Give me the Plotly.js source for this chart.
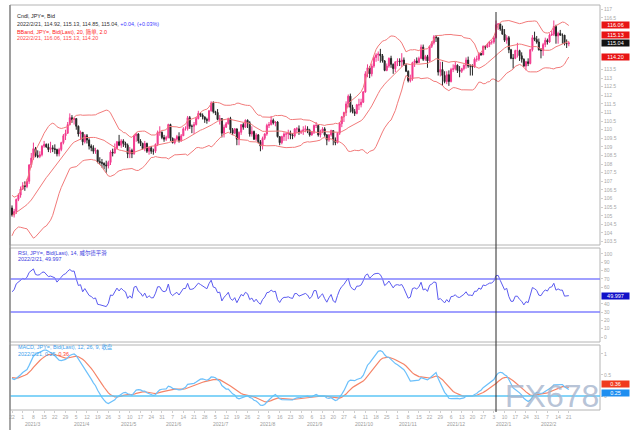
<!DOCTYPE html>
<html><head><meta charset="utf-8">
<script src="https://cdn.plot.ly/plotly-3.0.1.min.js"></script>
<style>html,body{margin:0;padding:0;background:#fff;}#chart{width:631px;height:440px;}</style>
</head><body><div id="chart"></div>
<script>
// ---- DATA (USD/JPY daily) ----
const firstDate = '2021-02-22';
const markDate = '2022-01-04';
const warmupClose = [103.15,102.70,103.05,103.80,103.95, 104.25,103.75,103.90,103.85,103.85,
  103.70,103.85,103.55,103.50,103.80, 103.75,103.60,104.10,104.25,104.70,
  104.95,105.05,105.05,105.55,105.40, 105.25,104.60,104.60,104.75,104.95,
  105.40,106.05,105.85,105.65,105.45];
const closePrice = [
  105.05,105.25,105.95,106.20,106.55, 106.75,106.70,107.00,107.95,108.35,
  108.90,108.50,108.45,108.55,109.05, 109.15,109.00,108.85,108.95,108.90,
  108.85,108.60,108.85,109.25,109.65, 109.80,110.30,110.70,110.60,110.65,
  110.20,109.75,109.85,109.30,109.65, 109.40,109.05,108.95,108.75,108.80,
  108.15,108.10,108.05,107.95,107.90, 108.10,108.70,108.65,108.90,109.30,
  109.10,109.35,109.20,109.10,108.60, 108.80,108.60,109.65,109.75,109.35,
  109.20,108.90,109.20,108.75,108.95, 108.75,108.75,109.15,109.85,109.85,
  109.55,109.45,109.55,110.30,109.50, 109.25,109.45,109.60,109.35,109.65,
  110.05,110.05,110.70,110.20,110.20, 110.30,110.65,110.95,110.85,110.75,
  110.60,110.55,111.10,111.55,111.05, 111.00,110.60,110.65,109.80,110.15,
  110.35,110.65,110.00,109.80,110.05, 109.45,109.85,110.30,110.15,110.55,
  110.40,109.75,109.90,109.45,109.70, 109.30,109.05,109.50,109.75,110.25,
  110.30,110.55,110.40,110.45,109.60, 109.25,109.60,109.75,109.75,109.80,
  109.70,109.65,110.05,110.05,109.85, 109.90,110.00,110.05,109.95,109.70,
  109.85,110.25,110.25,109.70,109.90, 110.05,109.70,109.40,109.70,109.95,
  109.40,109.25,109.80,110.35,110.75, 111.00,111.50,111.95,111.30,111.05,
  110.95,111.45,111.45,111.60,112.20, 113.25,113.60,113.25,113.70,114.20,
  114.35,114.40,114.30,114.00,113.45, 113.70,114.15,113.80,113.55,113.95,
  114.00,113.95,114.05,113.75,113.40, 112.85,112.95,113.90,114.00,113.90,
  114.15,114.80,114.10,114.25,114.00, 114.85,115.05,115.40,115.35,113.35,
  113.50,113.15,112.80,113.20,112.80, 113.50,113.55,113.75,113.45,113.40,
  113.55,113.75,114.05,113.70,113.70, 113.65,114.10,114.10,114.45,114.35,
  114.85,114.80,114.95,115.10,115.10, 115.35,116.10,116.15,115.85,115.55,
  115.20,115.35,114.65,114.15,114.15, 114.60,114.60,114.30,114.10,113.70,
  113.95,113.85,114.65,115.35,115.25, 115.10,114.65,114.60,114.95,115.20,
  115.10,115.50,115.55,116.00,115.45, 115.60,115.50,115.50,115.00,115.00,
  115.04];
const highPrice = [
  105.60,105.40,106.00,106.30,106.70, 106.95,107.00,107.15,108.00,108.65,
  109.25,109.00,108.80,108.75,109.10, 109.35,109.20,109.20,109.30,109.10,
  109.15,108.90,108.95,109.30,109.75, 110.00,110.45,110.95,110.85,110.70,
  110.65,110.25,109.95,109.85,109.75, 109.75,109.50,109.15,109.10,108.95,
  108.85,108.40,108.30,108.10,108.20, 108.20,108.80,108.90,109.20,109.35,
  109.70,109.45,109.45,109.30,109.20, 109.00,108.90,109.70,109.80,109.80,
  109.45,109.25,109.35,109.25,109.00, 109.05,108.90,109.20,109.95,110.20,
  109.90,109.70,109.65,110.35,110.35, 109.55,109.50,109.70,109.85,109.75,
  110.15,110.20,110.80,110.80,110.30, 110.45,110.75,111.10,111.00,110.95,
  110.75,110.70,111.15,111.65,111.65, 111.10,111.20,110.85,110.65,110.30,
  110.45,110.70,110.75,110.10,110.10, 110.00,109.90,110.30,110.40,110.60,
  110.60,110.50,110.20,109.95,109.80, 109.75,109.40,109.60,109.80,110.35,
  110.45,110.80,110.65,110.50,110.50, 109.60,109.65,109.85,109.85,110.00,
  109.95,109.80,110.10,110.15,110.25, 110.00,110.20,110.25,110.20,110.05,
  109.90,110.30,110.45,110.30,110.00, 110.15,110.15,109.75,109.75,110.00,
  109.95,109.55,109.85,110.45,110.80, 111.05,111.65,112.05,112.10,111.45,
  111.20,111.50,111.80,111.80,112.25, 113.40,113.80,113.70,113.85,114.30,
  114.45,114.55,114.70,114.40,114.05, 113.85,114.20,114.30,113.85,113.95,
  114.15,114.15,114.45,114.20,113.85, 113.45,113.20,113.95,114.10,114.20,
  114.25,114.95,114.95,114.35,114.35, 114.90,115.15,115.50,115.50,115.35,
  113.95,113.95,113.40,113.40,113.45, 113.60,113.80,113.95,113.80,113.70,
  113.60,113.80,114.20,114.25,113.80, 113.80,114.20,114.30,114.50,114.45,
  114.90,114.90,115.05,115.15,115.20, 115.45,116.35,116.20,116.15,116.05,
  115.85,115.50,115.45,114.70,114.40, 114.65,115.05,114.65,114.50,114.15,
  114.00,114.15,114.70,115.50,115.70, 115.45,115.30,114.75,115.05,115.35,
  115.30,115.60,115.75,116.35,116.10, 115.70,115.80,115.60,115.50,115.25,
  115.13];
const lowPrice = [
  104.95,104.90,105.10,105.85,106.05, 106.50,106.45,106.60,106.85,107.80,
  108.25,108.40,108.35,108.35,108.45, 108.95,108.95,108.70,108.65,108.70,
  108.60,108.45,108.45,108.75,109.15, 109.40,109.75,110.25,110.40,110.30,
  110.00,109.60,109.40,109.10,109.20, 109.20,108.85,108.75,108.60,108.60,
  108.05,107.95,107.80,107.70,107.50, 107.75,107.95,108.45,108.60,108.85,
  109.05,108.95,109.00,108.95,108.35, 108.35,108.35,108.55,109.30,109.20,
  109.05,108.85,108.75,108.65,108.55, 108.60,108.55,108.65,109.05,109.65,
  109.45,109.30,109.35,109.50,109.35, 109.20,109.15,109.40,109.25,109.30,
  109.65,109.95,109.95,110.05,109.80, 109.75,110.25,110.60,110.75,110.60,
  110.40,110.35,110.45,111.05,110.95, 110.85,110.55,110.30,109.55,109.55,
  110.10,110.30,109.80,109.70,109.75, 109.10,109.10,109.70,110.00,110.10,
  110.10,109.60,109.60,109.40,109.35, 109.20,108.75,108.85,109.40,109.65,
  110.10,110.25,110.30,110.20,109.55, 109.10,109.15,109.35,109.35,109.45,
  109.45,109.45,109.55,109.80,109.70, 109.75,109.70,109.85,109.80,109.60,
  109.65,109.75,110.10,109.60,109.55, 109.80,109.60,109.10,109.30,109.60,
  109.10,109.10,109.20,109.70,110.15, 110.45,110.80,111.30,111.00,110.95,
  110.80,110.90,111.15,111.30,111.55, 112.15,113.05,113.00,113.10,113.60,
  113.95,114.00,113.90,113.90,113.40, 113.40,113.60,113.60,113.25,113.35,
  113.70,113.70,113.65,113.75,113.35, 112.75,112.75,112.85,113.65,113.85,
  113.90,114.10,114.00,114.00,113.60, 113.95,114.75,114.95,115.10,113.15,
  113.10,112.55,112.70,112.65,112.55, 112.75,113.35,113.45,113.30,113.05,
  113.30,113.45,113.55,113.60,113.15, 113.15,113.60,113.95,114.00,114.30,
  114.35,114.65,114.75,114.80,114.95, 115.00,115.30,115.80,115.75,115.55,
  115.10,115.00,114.45,114.10,113.55, 114.10,114.20,114.00,113.90,113.65,
  113.45,113.70,113.80,114.55,115.15, 115.00,114.60,114.15,114.30,114.80,
  114.95,115.05,115.45,115.45,115.00, 115.00,115.45,115.00,114.90,114.75,
  114.85];
const bbLabelValues = [116.06, 115.13, 114.20];
const bbLabelText = ['116.06', '115.13', '114.20'];
const lastPriceValue = 115.04;
const lastPriceText = '115.04';
// axis tick values (those hidden behind the value boxes are left out)
const priceTicks = [103.5,104,104.5,105,105.5,106,106.5,107,107.5,108,108.5,109,109.5,110,
  110.5,111,111.5,112,112.5,113,113.5,116.5,117];
const rsiTicks = [0,10,20,30,40,60,70,80,90,100];
const rsiLevels = [70, 30];
const rsiLastText = '49.997';
const macdLabelText = ['0.36', '0.25'];
const headerMain = ['Cndl, JPY=, Bid',
  '2022/2/21, 114.92, 115.13, 114.85, 115.04, <span style="color:#3a3aff">+0.04, (+0.03%)</span>',
  'BBand, JPY=, Bid(Last), 20, 简单, 2.0',
  '2022/2/21, 116.06, 115.13, 114.20'];
const headerRsi = ['RSI, JPY=, Bid(Last), 14, 威尔德平滑', '2022/2/21, 49.997'];
const headerMacd = ['MACD, JPY=, Bid(Last), 12, 26, 9, 收盘', '2022/2/21, 0.25, <span style="color:#ff3b2b">0.36</span>'];

// ---- derived ----
const N = closePrice.length;
const idx = closePrice.map((_, i) => i);
const openPrice = closePrice.map((c, i) => i === 0 ? warmupClose[warmupClose.length - 1] : closePrice[i - 1]);
const dates = [];
{
  const p = firstDate.split('-').map(Number);
  const d = new Date(Date.UTC(p[0], p[1] - 1, p[2]));
  while (dates.length < N) {
    const wd = d.getUTCDay();
    if (wd > 0 && wd < 6) dates.push(new Date(d.getTime()));
    d.setUTCDate(d.getUTCDate() + 1);
  }
}
const iso = d => d.toISOString().slice(0, 10);
const markIndex = dates.findIndex(d => iso(d) === markDate);

const allClose = warmupClose.concat(closePrice);
const W = warmupClose.length;
const bbUp = [], bbMid = [], bbLo = [];
for (let i = 0; i < N; i++) {
  const k = i + W;
  const win = allClose.slice(k - 19, k + 1);
  const m = win.reduce((a, b) => a + b, 0) / win.length;
  const sd = Math.sqrt(win.reduce((a, b) => a + (b - m) * (b - m), 0) / win.length);
  bbMid.push(m); bbUp.push(m + 2 * sd); bbLo.push(m - 2 * sd);
}
const rsiAll = [];
{
  let ag = 0, al = 0;
  for (let k = 1; k < allClose.length; k++) {
    const ch = allClose[k] - allClose[k - 1];
    const g = Math.max(ch, 0), l = Math.max(-ch, 0);
    if (k <= 14) { ag += g / 14; al += l / 14; }
    else { ag = (ag * 13 + g) / 14; al = (al * 13 + l) / 14; }
    rsiAll[k] = k >= 14 ? 100 - 100 / (1 + ag / al) : null;
  }
}
const rsi = rsiAll.slice(W);
function ema(arr, n) {
  const a = 2 / (n + 1); const out = []; let e = arr[0];
  arr.forEach((v, i) => { e = i === 0 ? v : a * v + (1 - a) * e; out.push(e); });
  return out;
}
const e12 = ema(allClose, 12), e26 = ema(allClose, 26);
const macdAll = e12.map((v, i) => v - e26[i]);
const sigAll = ema(macdAll, 9);
const macd = macdAll.slice(W), signal = sigAll.slice(W);

// ---- layout helpers (pixel -> paper) ----
const PL = 10, PR = 600, PT = 5, PB = 410;
const px = x => (x - PL) / (PR - PL);
const py = y => (PB - y) / (PB - PT);

const ppc = 2.1416;
const xr0 = -2 / ppc;
const xRange = [xr0, xr0 + (PR - PL) / ppc];

const macdMax = Math.max(...macd, ...signal);
const ppu = (396 - 350) / macdMax;
const macdRange = [-(410 - 396) / ppu, (396 - 345) / ppu];

const FONT = 'Liberation Sans, Arial, Noto Sans CJK SC, sans-serif';
const ann = [];
function addText(text, x, y, color, size) {
  ann.push({text, x: px(x), y: py(y), xref: 'paper', yref: 'paper', xanchor: 'left', yanchor: 'middle',
    showarrow: false, font: {family: FONT, size: size || 5.4, color}});
}
addText(headerMain[0], 15, 16, '#222');
addText(headerMain[1], 15, 24, '#333');
addText(headerMain[2], 15, 31.5, '#ff2020');
addText(headerMain[3], 15, 38.5, '#ff4a4a');
addText(headerRsi[0], 16, 252.5, '#3a3ae0');
addText(headerRsi[1], 16, 258.5, '#3a3ae0');
addText(headerMacd[0], 16, 347, '#3aa0ee');
addText(headerMacd[1], 16, 354, '#3aa0ee');

function boxLabel(text, yref, y, bg, fg, yshift) {
  ann.push({text, x: 1, xref: 'paper', y, yref, xanchor: 'left', yanchor: 'middle', xshift: 1, yshift: yshift || 0,
    showarrow: false, bgcolor: bg, width: 27, height: 6, borderpad: 0,
    font: {family: FONT, size: 5.5, color: fg}});
}
boxLabel(bbLabelText[0], 'y', bbLabelValues[0], '#e81414', '#fff', 0);
boxLabel(bbLabelText[1], 'y', bbLabelValues[1], '#e81414', '#fff', 6);
boxLabel(lastPriceText, 'y', lastPriceValue, '#111111', '#fff', 0);
boxLabel(bbLabelText[2], 'y', bbLabelValues[2], '#e81414', '#fff', 0);
boxLabel(rsiLastText, 'y2', rsi[N - 1], '#1010c8', '#fff', 0);
boxLabel(macdLabelText[0], 'y3', signal[N - 1], '#f03a1e', '#fff', 4);
boxLabel(macdLabelText[1], 'y3', macd[N - 1], '#1e8ef0', '#fff', -3);

// month labels (second row)
dates.forEach((d, i) => {
  if (i > 0 && d.getUTCMonth() !== dates[i - 1].getUTCMonth()) {
    ann.push({text: d.getUTCFullYear() + '/' + (d.getUTCMonth() + 1), x: i, xref: 'x', y: py(424), yref: 'paper',
      xanchor: 'left', yanchor: 'middle', showarrow: false, font: {family: FONT, size: 5, color: '#9a9a9a'}});
  }
});
// watermark
ann.push({text: 'FX678', x: px(552), y: py(396), xref: 'paper', yref: 'paper', xanchor: 'center', yanchor: 'middle',
  showarrow: false, font: {family: 'Liberation Sans, Arial, sans-serif', size: 32, color: 'rgba(165,180,205,0.8)'}});

const tickVals = [], tickText = [];
dates.forEach((d, i) => { if (d.getUTCDay() === 1) { tickVals.push(i); tickText.push(String(d.getUTCDate())); } });

const traces = [
  {type: 'candlestick', x: idx, open: openPrice, high: highPrice, low: lowPrice, close: closePrice,
   xaxis: 'x', yaxis: 'y', whiskerwidth: 0, hoverinfo: 'skip',
   increasing: {line: {color: '#f23a8e', width: 1}, fillcolor: '#f23a8e'},
   decreasing: {line: {color: '#262626', width: 1}, fillcolor: '#262626'}},
  {type: 'scatter', mode: 'lines', x: idx, y: bbUp, yaxis: 'y', line: {color: '#f27a7a', width: 1}, hoverinfo: 'skip'},
  {type: 'scatter', mode: 'lines', x: idx, y: bbMid, yaxis: 'y', line: {color: '#f27a7a', width: 1}, hoverinfo: 'skip'},
  {type: 'scatter', mode: 'lines', x: idx, y: bbLo, yaxis: 'y', line: {color: '#f27a7a', width: 1}, hoverinfo: 'skip'},
  {type: 'scatter', mode: 'lines', x: idx, y: rsi, yaxis: 'y2', line: {color: '#5a5af0', width: 1}, hoverinfo: 'skip'},
  {type: 'scatter', mode: 'lines', x: idx, y: signal, yaxis: 'y3', line: {color: '#f58468', width: 1.2}, hoverinfo: 'skip'},
  {type: 'scatter', mode: 'lines', x: idx, y: macd, yaxis: 'y3', line: {color: '#6cc0fb', width: 1.2}, hoverinfo: 'skip'}
];

const shapes = [];
rsiLevels.forEach(v => shapes.push({type: 'line', xref: 'paper', x0: 0, x1: 1, yref: 'y2', y0: v, y1: v,
  line: {color: '#8080ff', width: 1.5}}));
shapes.push({type: 'line', xref: 'paper', x0: 0, x1: 1, yref: 'y3', y0: 0, y1: 0, line: {color: '#5cc6f6', width: 1.5}});
shapes.push({type: 'line', xref: 'x', x0: markIndex, x1: markIndex, yref: 'paper', y0: py(412), y1: py(12),
  line: {color: '#2a2a2a', width: 1}});
const doms = [[py(245), 1], [py(342), py(248)], [0, py(345)]];
doms.forEach(dm => shapes.push({type: 'rect', xref: 'paper', x0: 0, x1: 1, yref: 'paper', y0: dm[0], y1: dm[1],
  line: {color: '#b4b4b4', width: 1}, layer: 'below'}));
shapes.push({type: 'line', xref: 'paper', x0: 0, x1: 0, yref: 'paper', y0: py(430), y1: 1, line: {color: '#8a8a8a', width: 1.5}});

const axBase = {showgrid: false, zeroline: false, showline: false, side: 'right',
  tickfont: {family: FONT, size: 5, color: '#a8a8a8'}, ticks: 'outside', ticklen: 2, tickcolor: '#cfcfcf'};
const layout = {
  width: 631, height: 440, paper_bgcolor: '#fff', plot_bgcolor: '#fff', showlegend: false,
  margin: {l: PL, r: 631 - PR, t: PT, b: 440 - PB},
  xaxis: {range: xRange, anchor: 'y3', rangeslider: {visible: false}, showgrid: false, zeroline: false,
    tickvals: tickVals, ticktext: tickText, tickfont: {family: FONT, size: 5, color: '#a8a8a8'},
    ticks: 'outside', ticklen: 2, tickcolor: '#cfcfcf', showline: false},
  yaxis: Object.assign({}, axBase, {domain: doms[0], range: [103.30, 117.25], tickmode: 'array', tickvals: priceTicks, anchor: 'x'}),
  yaxis2: Object.assign({}, axBase, {domain: doms[1], range: [-6.0, 107.2], tickmode: 'array', tickvals: rsiTicks, anchor: 'x'}),
  yaxis3: Object.assign({}, axBase, {domain: doms[2], range: macdRange, nticks: 6, anchor: 'x'}),
  shapes, annotations: ann
};
Plotly.newPlot('chart', traces, layout, {staticPlot: true, displayModeBar: false});
</script></body></html>
